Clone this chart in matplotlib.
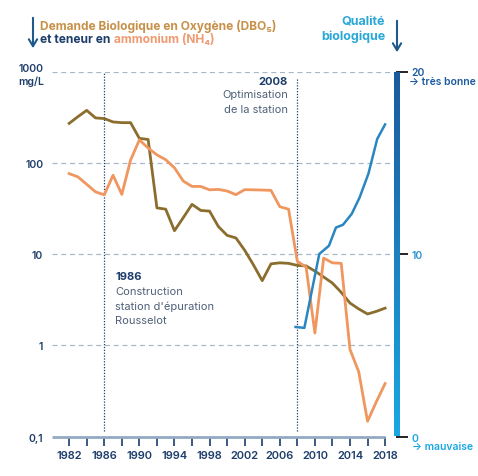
import matplotlib
matplotlib.use("Agg")
import matplotlib.pyplot as plt
import numpy as np
from matplotlib.colors import LinearSegmentedColormap

plt.rcParams['font.family'] = ['Inter', 'DejaVu Sans']

# yearly values
years = list(range(1982, 2019))
dbo5 = [270, 320, 375, 310, 305, 280, 275, 275, 185, 180,
        32, 31, 18, 25, 35, 30, 29.5, 20, 16, 15,
        11, 7.6, 5.1, 7.8, 8.0, 7.9, 7.5, 7.4, 6.5, 5.6,
        4.8, 3.8, 2.9, 2.5, 2.2, 2.35, 2.55]
nh4 = [76, 70, 58, 48, 44.5, 73, 45, 107, 178, 145,
       122, 108, 88, 63, 55, 55, 50.5, 51, 49, 44.7,
       50.7, 50.5, 50.2, 49.8, 33, 31, 8.3, 7.2, 1.36, 9.0,
       8.0, 7.9, 0.9, 0.51, 0.147, 0.24, 0.38]
q_years = [2007.8, 2008.8, 2010.5, 2011.6, 2012.4, 2013.2, 2014.2, 2015.1, 2016.1, 2017.1, 2018.0]
quality = [6.0, 5.95, 10.0, 10.45, 11.45, 11.6, 12.2, 13.1, 14.4, 16.3, 17.1]

left_ticks = [0.1, 1, 10, 100, 1000]
left_labels = ['0,1', '1', '10', '100', '']
x_ticks = list(range(1982, 2019, 2))
x_labels = [str(y) if (y - 1982) % 4 == 0 else '' for y in x_ticks]
right_ticks = [0, 10, 20]
right_labels = ['0', '10', '20']

NAVY = '#1d3d6b'
GREY = '#4f6078'
GRID = '#a9b8c8'
AXIS = '#93aac2'
BROWN = '#8b6d2e'
ORANGE = '#f0965f'
BLUE = '#2a86c0'
GOLD = '#c8914a'
SALMON = '#f09a72'
CYAN = '#2aa8d8'
DARKBLUE = '#1b5a9e'
LIGHTBLUE = '#19a7e4'

W, H = 478, 477
fig = plt.figure(figsize=(W / 100, H / 100), dpi=100)


def rect(x0, y0, x1, y1):
    return [x0 / W, 1 - y1 / H, (x1 - x0) / W, (y1 - y0) / H]


def ftext(x, y, s, **kw):
    return fig.text(x / W, 1 - y / H, s, **kw)


ax = fig.add_axes(rect(51.6, 72.5, 396.5, 437.5))
ax.set_yscale('log')
ax.set_ylim(0.1, 1000)
ax.set_xlim(1980, 2019.3)
for s in ax.spines.values():
    s.set_visible(False)

for v in [1, 10, 100, 1000]:
    ax.axhline(v, color=GRID, lw=0.9, dashes=(4, 3))
ax.hlines(0.1, 1980, 2018, color=AXIS, lw=2, clip_on=False, zorder=3)
ax.vlines(1986, 0.115, 1000, color=NAVY, lw=0.9, linestyles=(0, (1, 1.3)))
ax.vlines(2008, 0.115, 850, color=NAVY, lw=0.9, linestyles=(0, (1, 1.3)))

ax.plot(years, dbo5, color=BROWN, lw=2.0, zorder=4)
ax.plot(years, nh4, color=ORANGE, lw=2.0, zorder=4)

ax.set_yticks(left_ticks, left_labels)
ax.yaxis.set_minor_locator(matplotlib.ticker.NullLocator())
ax.tick_params(axis='y', length=0, pad=6, labelsize=7.5, labelcolor=NAVY)
for lbl in ax.get_yticklabels():
    lbl.set_fontweight('semibold')
ax.set_xticks(x_ticks, x_labels)
ax.tick_params(axis='x', length=6.5, width=1.2, color=NAVY, pad=3.5,
               labelsize=8, labelcolor=NAVY)
for lbl in ax.get_xticklabels():
    lbl.set_fontweight('semibold')

ax2 = ax.twinx()
ax2.set_ylim(0, 20)
for s in ax2.spines.values():
    s.set_visible(False)
ax2.plot(q_years, quality, color=BLUE, lw=1.8, zorder=4)
ax2.set_yticks(right_ticks, right_labels)
ax2.tick_params(axis='y', length=8.6, width=1.2, pad=2, labelsize=7.5)
rcols = [LIGHTBLUE, '#2a93cf', DARKBLUE]
for lbl, t, c in zip(ax2.get_yticklabels(), ax2.yaxis.get_major_ticks(), rcols):
    lbl.set_color(c)
    lbl.set_fontweight('semibold')
    t.tick2line.set_color(c)

# gradient bar for the quality scale
bar = fig.add_axes(rect(393.5, 72.5, 399.5, 437.5))
cmap = LinearSegmentedColormap.from_list('q', [DARKBLUE, LIGHTBLUE])
bar.imshow(np.linspace(0, 1, 256).reshape(-1, 1), aspect='auto', cmap=cmap)
bar.axis('off')

ftext(409, 82, '→ très bonne', color=DARKBLUE, fontsize=7.5, weight='semibold', va='center')
ftext(412, 447, '→ mauvaise', color=LIGHTBLUE, fontsize=7.5, weight='semibold', va='center')
ftext(44, 68.5, '1000', color=NAVY, fontsize=7.5, weight='semibold', ha='right', va='center')
ftext(44, 81.5, 'mg/L', color=NAVY, fontsize=7.5, weight='semibold', ha='right', va='center')

# titles
ftext(40, 26.7, 'Demande Biologique en Oxygène (DBO₅)', color=GOLD, fontsize=8.6,
      weight='bold', va='center')
t2 = ftext(40, 40, 'et teneur en', color=NAVY, fontsize=8.6, weight='bold', va='center')
bb = t2.get_window_extent(fig.canvas.get_renderer())
ftext(bb.x1 + 4, 40, 'ammonium (NH₄)', color=SALMON, fontsize=8.6, weight='bold', va='center')
ftext(385, 22, 'Qualité', color=CYAN, fontsize=9, weight='bold', ha='right', va='center')
ftext(385, 37, 'biologique', color=CYAN, fontsize=9, weight='bold', ha='right', va='center')

arrow = dict(arrowstyle='->,head_length=0.5,head_width=0.3', color='#1f5a8c', lw=1.5)
plt.annotate('', xy=(33, H - 52), xytext=(33, H - 16), xycoords='figure pixels', arrowprops=arrow)
plt.annotate('', xy=(397, H - 56), xytext=(397, H - 19), xycoords='figure pixels', arrowprops=arrow)

# annotations
ftext(288, 82, '2008', color=NAVY, fontsize=8, weight='bold', ha='right', va='center')
ftext(288, 95.5, 'Optimisation', color=GREY, fontsize=8, ha='right', va='center')
ftext(288, 110, 'de la station', color=GREY, fontsize=8, ha='right', va='center')
ftext(115, 277, '1986', color=NAVY, fontsize=8, weight='bold', va='center')
ftext(115, 292, 'Construction', color=GREY, fontsize=8, va='center')
ftext(115, 306.5, "station d'épuration", color=GREY, fontsize=8, va='center')
ftext(115, 321, 'Rousselot', color=GREY, fontsize=8, va='center')

fig.savefig('out.png', dpi=100)
